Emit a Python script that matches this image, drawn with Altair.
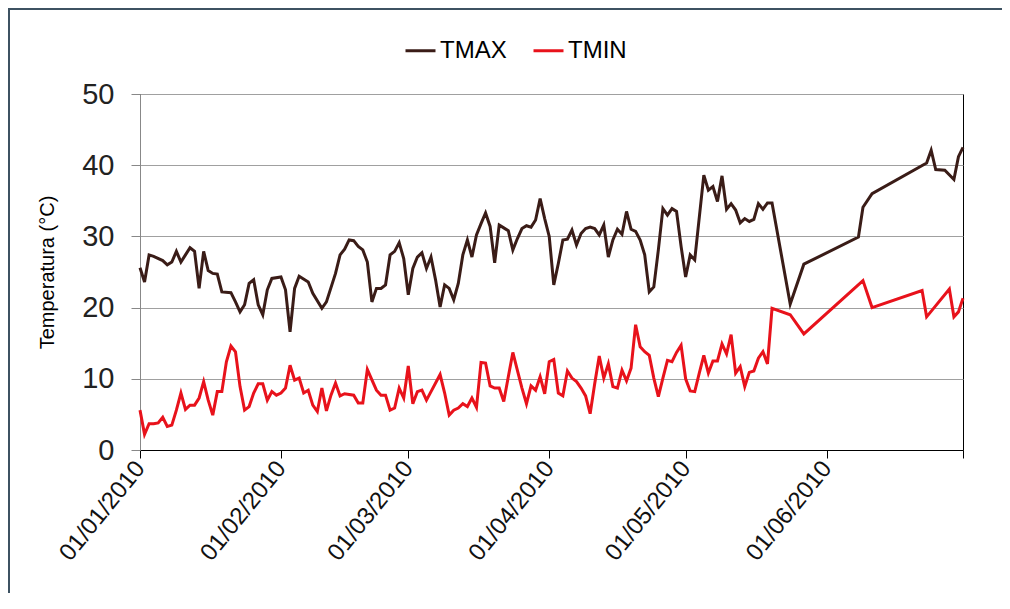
import altair as alt
import pandas as pd

# Day offsets from 01/01/2010 and readings (°C)
tmax_day = [0, 1, 2, 3, 5, 6, 7, 8, 9, 10, 11, 12, 13, 14, 15, 16, 17, 18, 20, 21, 22, 23, 24, 25, 26, 27, 28, 29,
            31, 32, 33, 34, 35, 37, 38, 40, 41, 43, 44, 45, 46, 47, 48, 49, 50, 51, 52, 53, 54, 55, 56, 57, 58,
            59, 60, 61, 62, 63, 64, 65, 66, 67, 68, 69, 70, 71, 72, 73, 74, 75, 76, 77, 78, 79, 80, 81, 82, 83, 84,
            85, 86, 87, 88, 89, 90, 91, 92, 93, 94, 95, 96, 97, 98, 99, 100, 101, 102, 103, 104, 105, 106, 107,
            108, 109, 110, 111, 112, 113, 114, 115, 116, 117, 118, 119, 120, 121, 122, 124, 125, 126, 127, 128,
            129, 130, 131, 132, 133, 134, 135, 136, 137, 138, 139, 143, 146, 158, 159, 161, 173, 174, 175, 177,
            179, 180, 181]
tmax_val = [25.6, 23.6, 27.4, 27.2, 26.6, 26.0, 26.4, 27.9, 26.4, 27.4, 28.4, 27.9, 22.7, 27.9, 25.2, 24.8, 24.7,
            22.2, 22.1, 20.8, 19.4, 20.4, 23.4, 23.9, 20.4, 19.0, 22.5, 24.1,
            24.3, 22.5, 16.6, 22.7, 24.4, 23.6, 22.0, 19.9, 20.8, 24.8, 27.4, 28.2, 29.5, 29.4, 28.6, 28.1, 26.4,
            20.8, 22.7, 22.7, 23.2, 27.4, 27.9, 29.1, 26.9,
            21.8, 25.5, 27.1, 27.7, 25.5, 27.1, 23.9, 20.1, 23.2, 22.7, 21.1, 23.4, 27.4, 29.5, 27.1, 30.2, 31.8,
            33.3, 31.4, 26.3, 31.6, 31.2, 30.8, 28.1, 29.7, 31.1,
            31.5, 31.3, 32.3, 35.3, 32.5, 30.0, 23.2, 26.2, 29.5, 29.6, 30.9, 28.8, 30.4, 31.1, 31.3, 31.1, 30.2,
            31.6, 27.1, 29.5, 31.0, 30.3, 33.5,
            31.0, 30.7, 29.5, 27.4, 22.2, 22.9, 28.1, 33.9, 33.0, 33.9, 33.5, 28.6, 24.3, 27.4, 26.7, 38.6, 36.5,
            37.0, 34.9, 38.5,
            33.8, 34.6, 33.7, 31.9, 32.5, 32.1, 32.4, 34.6, 33.8, 34.7, 34.7, 20.5, 26.1, 29.9, 34.1, 36.0, 40.3,
            42.1, 39.4, 39.3,
            38.0, 41.2, 42.5]

tmin_day = [0, 1, 2, 3, 4, 5, 6, 7, 8, 9, 10, 11, 12, 13, 14, 15, 16, 17, 18, 19, 20, 21, 22, 23, 24, 25, 26, 27,
            28, 29, 30, 31, 32, 33, 34, 35, 36, 37, 38, 39, 40, 41, 42, 43, 44, 45, 47, 48, 49, 50, 52, 53, 54,
            55, 56, 57, 58, 59, 60, 61, 62, 63, 64, 66, 67, 68, 69, 70, 71, 72, 73, 74, 75, 76, 77, 78, 79, 80,
            81, 82, 83, 84, 85, 86, 87, 88, 89, 90, 91, 92, 93, 94, 95, 96, 97, 98, 99, 100, 101, 102, 103, 104,
            105, 106, 107, 108, 109, 110, 111, 112, 113, 114, 115, 116, 117, 118, 119, 120, 121, 122, 123, 124,
            125, 126, 127, 128, 129, 130, 131, 132, 133, 134, 135, 136, 137, 138, 139, 143, 146, 159, 161, 172,
            173, 178, 179, 180, 181]
tmin_val = [5.6, 2.2, 3.7, 3.7, 3.8, 4.6, 3.3, 3.5, 5.6, 8.0, 5.7, 6.3, 6.3, 7.3, 9.6, 7.0, 4.9, 8.2, 8.2, 12.4,
            14.6, 13.8, 8.9, 5.6, 6.1, 8.0, 9.3, 9.3,
            7.0, 8.2, 7.7, 8.0, 8.7, 11.9, 9.8, 10.1, 8.0, 8.4, 6.3, 5.4, 8.7, 5.5, 7.7, 9.4, 7.6, 7.9, 7.7, 6.6,
            6.6, 11.3, 8.4, 7.7, 7.7,
            5.6, 5.9, 8.7, 7.3, 11.8, 6.5, 8.2, 8.4, 7.0, 8.2, 10.6, 8.0, 4.9, 5.6, 5.9, 6.5, 6.1, 7.3, 6.0, 12.3,
            12.2, 9.0, 8.7, 8.7, 6.8,
            10.3, 13.7, 11.2, 8.7, 6.5, 9.0, 8.4, 10.3, 7.9, 12.4, 12.7, 8.0, 7.6, 11.1, 10.1, 9.6, 8.7, 7.6, 5.1,
            9.3, 13.2, 10.1, 12.1, 8.9,
            8.7, 11.2, 9.7, 11.5, 17.6, 14.5, 13.8, 13.3, 10.1, 7.5, 10.1, 12.6, 12.4, 13.7, 14.7, 10.0, 8.3, 8.2,
            10.8, 13.3,
            10.8, 12.5, 12.5, 14.9, 13.5, 16.2, 10.8, 11.7, 8.9, 10.9, 11.1, 12.9, 13.8, 12.1, 19.9, 19.0, 16.3,
            23.8, 20.0, 22.4,
            18.7, 22.6, 18.7, 19.4, 21.3]

series = ["TMAX", "TMIN"]
colors = ["#3a1c17", "#e8121b"]

start = pd.Timestamp("2010-01-01")
df = pd.concat([
    pd.DataFrame({"Fecha": start + pd.to_timedelta(tmax_day, unit="D"), "Temp": tmax_val, "Serie": "TMAX"}),
    pd.DataFrame({"Fecha": start + pd.to_timedelta(tmin_day, unit="D"), "Temp": tmin_val, "Serie": "TMIN"}),
])

tick_dates = [alt.DateTime(year=2010, month=m, date=1) for m in range(1, 8)]

lines = alt.Chart(df).mark_line(strokeWidth=3, interpolate="linear").encode(
    x=alt.X("Fecha:T",
            scale=alt.Scale(domain=[alt.DateTime(year=2010, month=1, date=1),
                                    alt.DateTime(year=2010, month=7, date=1)], nice=False),
            axis=alt.Axis(values=tick_dates, title=None, grid=False, labelAngle=-51,
                          labelAlign="right", labelBaseline="middle",
                          labelExpr="month(datum.value) == 6 ? '' : timeFormat(datum.value, '%d/%m/%Y')",
                          labelFontSize=24, labelPadding=6, tickSize=8,
                          domainColor="#000000", tickColor="#000000", labelColor="#111111")),
    y=alt.Y("Temp:Q", scale=alt.Scale(domain=[0, 50], nice=False),
            axis=alt.Axis(values=[0, 10, 20, 30, 40, 50], title="Temperatura (°C)",
                          titleFontSize=20, titleFontWeight="normal", titlePadding=24, titleColor="#000000",
                          labelFontSize=29, labelPadding=17, labelColor="#222222",
                          tickSize=9, tickColor="#888888", domainColor="#888888",
                          grid=True, gridColor="#a0a0a0", gridWidth=1)),
    color=alt.Color("Serie:N", scale=alt.Scale(domain=series, range=colors),
                    legend=alt.Legend(title=None, orient="none", direction="horizontal",
                                      legendX=264, legendY=-60, symbolType="stroke",
                                      symbolStrokeWidth=3, symbolSize=900,
                                      labelFontSize=24, labelColor="#000000",
                                      columnPadding=20, labelOffset=3)),
)

# outer chart frame (right and bottom edges fall outside the canvas, as in the original)
frame = alt.Chart(alt.Data(values=[{}])).mark_rect(
    fill="transparent", stroke="#3d5262", strokeWidth=2).encode(
    x=alt.value(-131), x2=alt.value(900), y=alt.value(-85), y2=alt.value(600))

chart = alt.layer(frame, lines).properties(
    width=823, height=356,
    autosize=alt.AutoSizeParams(type="none"),
    padding={"left": 132, "top": 86, "right": 39, "bottom": 143},
).configure(font="Liberation Sans").configure_view(stroke="#000000", strokeWidth=1)

chart.save("out.html", embed_options={"renderer": "svg", "actions": False})
